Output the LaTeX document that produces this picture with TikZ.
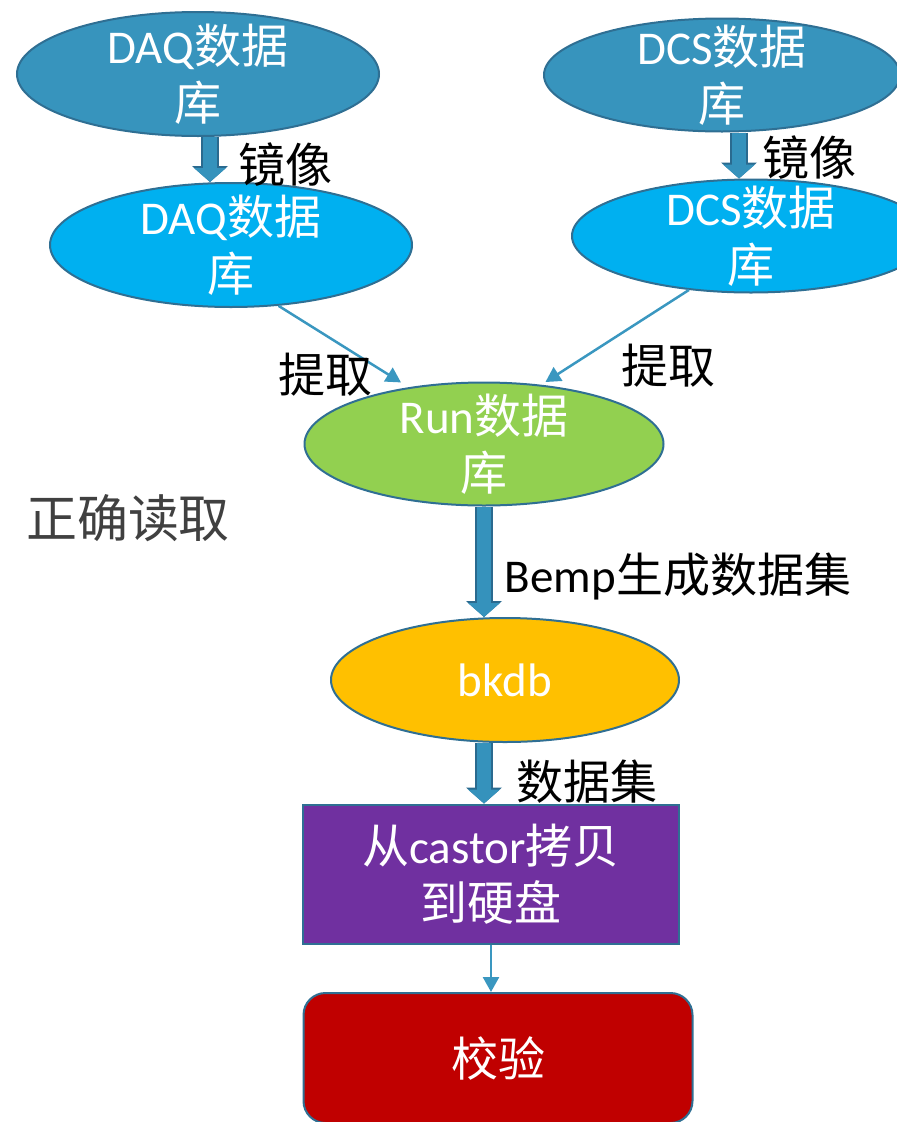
\documentclass[tikz,border=0pt]{standalone}
\usepackage{fontspec}
\setmainfont{Carlito}
\newfontfamily\zhfont{Noto Sans CJK SC}
\newcommand{\zh}[1]{{\zhfont #1}}
\usepackage{tikz}
\usetikzlibrary{arrows.meta, shapes.geometric, positioning}
\definecolor{dbsteel}{HTML}{3794BD}
\definecolor{dbcyan}{HTML}{00B0F0}
\definecolor{dbgreen}{HTML}{92D050}
\definecolor{dbgold}{HTML}{FFC000}
\definecolor{copyviolet}{HTML}{7030A0}
\definecolor{checkred}{HTML}{C00000}
\definecolor{edgeblue}{HTML}{2F6F93}
\definecolor{pipefill}{HTML}{3592BC}
\definecolor{pipeedge}{HTML}{2A6A8F}
\definecolor{linkblue}{HTML}{3A97C0}
\definecolor{notegray}{HTML}{404040}

\begin{document}
\begin{tikzpicture}[x=1pt, y=-1pt, >=Stealth,
    every node/.style={font=\fontsize{47}{57}\selectfont},
    db/.style={ellipse, draw=edgeblue, line width=2pt, inner sep=0pt},
    dbtext/.style={text=white, align=center, inner sep=0pt},
    stepbox/.style={rectangle, draw=edgeblue, line width=2pt, text=white, align=center},
    pipe/.style={draw=pipeedge, line width=18pt, -{Triangle[width=36pt, length=16pt, line width=0pt]},
      postaction={draw=pipefill, line width=14pt, -{Triangle[width=32pt, length=14pt, line width=0pt]}}},
    link/.style={draw=linkblue, line width=2.5pt, -{Triangle[width=16pt, length=15pt]}},
    lbl/.style={text=black}]
    \useasboundingbox (0,0) rectangle (897,1122);
    \clip (0,0) rectangle (897,1122);

    % source databases and their mirrors
    \node[db, fill=dbsteel, minimum width=362pt, minimum height=124pt,
      label={[dbtext]center:DAQ\zh{数据}\\\zh{库}}] (daq) at (198,74) {};
    \node[db, fill=dbsteel, minimum width=356pt, minimum height=113pt,
      label={[dbtext]center:DCS\zh{数据}\\\zh{库}}] (dcs) at (722,75) {};
    \node[db, fill=dbcyan, minimum width=362pt, minimum height=124pt,
      label={[dbtext]center:DAQ\zh{数据}\\\zh{库}}] (daqm) at (231,245) {};
    \node[db, fill=dbcyan, minimum width=358pt, minimum height=113pt,
      label={[dbtext]center:DCS\zh{数据}\\\zh{库}}] (dcsm) at (751,236) {};

    \node[db, fill=dbgreen, minimum width=359pt, minimum height=123pt,
      label={[dbtext]center:Run\zh{数据}\\\zh{库}}] (run) at (484,444) {};
    \node[db, fill=dbgold, minimum width=348pt, minimum height=124pt,
      label={[dbtext]center:bkdb}] (bkdb) at (505,680) {};

    \node[stepbox, fill=copyviolet, minimum width=376pt, minimum height=139pt]
      (copy) at (491,874) {\zh{从}castor\zh{拷贝}\\\zh{到硬盘}};
    \node[stepbox, fill=checkred, rounded corners=22pt, minimum width=389pt, minimum height=130pt]
      (check) at (498,1058) {\zh{校验}};

    % connectors
    \coordinate (daqout) at ([xshift=12pt]daq.south);
    \coordinate (dcsout) at ([xshift=17pt]dcs.south);
    \draw[pipe] (daqout) -- (daqout |- daqm.north);
    \draw[pipe] (dcsout) -- (dcsout |- dcsm.north);
    \draw[link, shorten >=9pt] (daqm.-52) -- (run.143);
    \draw[link, shorten >=5pt] (dcsm.-139) -- (run.46);
    \draw[pipe] (run.south) -- (run.south |- bkdb.north);
    \draw[pipe] (run.south |- bkdb.south) -- (run.south |- copy.north);
    \draw[link] (copy.south) -- (copy.south |- check.north);

    % labels
    \node[lbl] (mirl) at (285,165) {\zh{镜像}};
    \node[lbl] (mirr) at (809,158) {\zh{镜像}};
    \node[lbl] (extl) at (325,375) {\zh{提取}};
    \node[lbl] (extr) at (668,366) {\zh{提取}};
    \node[text=notegray, font=\fontsize{51}{60}\selectfont] (note) at (128,518) {\zh{正确读取}};
    \node[lbl] (gen) at (678,576) {Bemp\zh{生成数据集}};
    \node[lbl] (dset) at (587,782) {\zh{数据集}};
\end{tikzpicture}
\end{document}
